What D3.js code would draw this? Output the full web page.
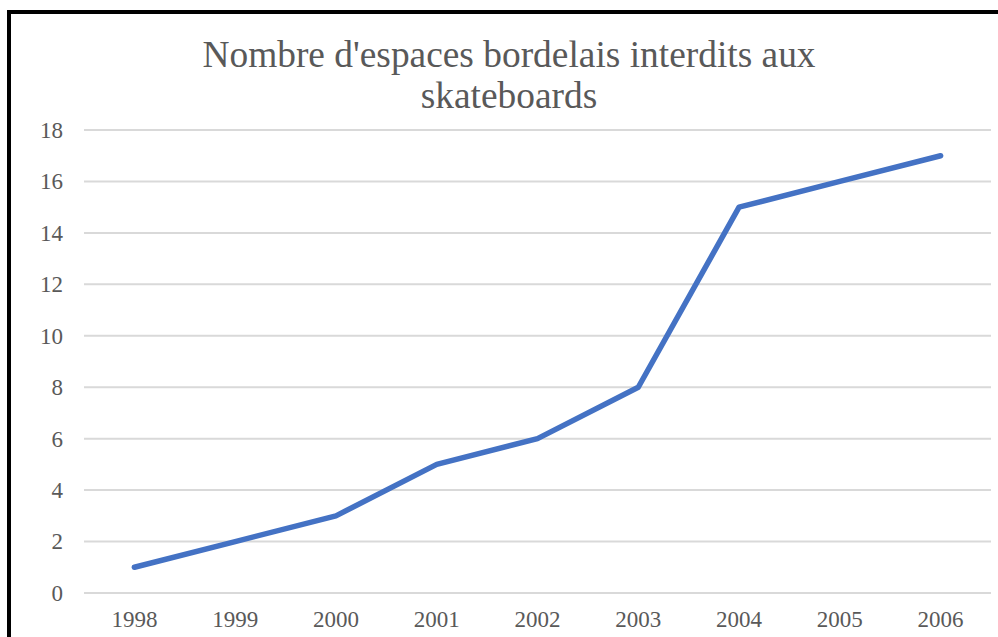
<!DOCTYPE html>
<html>
<head>
<meta charset="utf-8">
<script src="https://cdn.jsdelivr.net/npm/d3@7"></script>
<style>
  body { margin: 0; background: #fff; }
  svg { display: block; }
</style>
</head>
<body>
<svg class="chart" width="998" height="637"></svg>
<script>
// data
var years = ["1998", "1999", "2000", "2001", "2002", "2003", "2004", "2005", "2006"];
var counts = [1, 2, 3, 5, 6, 8, 15, 16, 17];
var yTicks = [0, 2, 4, 6, 8, 10, 12, 14, 16, 18];
var titleLines = ["Nombre d'espaces bordelais interdits aux", "skateboards"];

var FONT = "Liberation Serif";

var svg = d3.select(".chart"),
    margin = { top: 130, right: 7, bottom: 44, left: 84 },
    width = +svg.attr("width") - margin.left - margin.right,
    height = +svg.attr("height") - margin.top - margin.bottom;

// frame (only left and top edges are visible in the crop)
svg.append("path")
    .attr("d", "M9,700 L9,12 L1010,12")
    .attr("fill", "none")
    .attr("stroke", "#000")
    .attr("stroke-width", 4);

var g = svg.append("g").attr("transform", "translate(" + margin.left + "," + margin.top + ")");

var x = d3.scaleBand()
    .domain(years)
    .range([0, width]);

var y = d3.scaleLinear()
    .domain([0, 18])
    .range([height, 0]);

// gridlines
g.append("g")
    .selectAll("line")
    .data(yTicks)
    .enter()
    .append("line")
    .attr("x1", 0)
    .attr("x2", width)
    .attr("y1", function (d) { return y(d); })
    .attr("y2", function (d) { return y(d); })
    .attr("stroke", "#d9d9d9")
    .attr("stroke-width", 2);

// y axis labels
var yAxis = d3.axisLeft(y).tickValues(yTicks).tickSize(0).tickPadding(21);
var gy = g.append("g").call(yAxis)
    .attr("font-family", FONT)
    .attr("font-size", 23);
gy.select(".domain").remove();
gy.selectAll("text").attr("fill", "#595959");

// x axis labels
var xAxis = d3.axisBottom(x).tickSize(0).tickPadding(18);
var gx = g.append("g").attr("transform", "translate(0," + height + ")").call(xAxis)
    .attr("font-family", FONT)
    .attr("font-size", 23);
gx.select(".domain").remove();
gx.selectAll("text").attr("fill", "#595959");

// the line
var line = d3.line()
    .x(function (d, i) { return x(years[i]) + x.bandwidth() / 2; })
    .y(function (d) { return y(d); });

g.append("path")
    .datum(counts)
    .attr("d", line)
    .attr("fill", "none")
    .attr("stroke", "#4472c4")
    .attr("stroke-width", 5.5)
    .attr("stroke-linecap", "round")
    .attr("stroke-linejoin", "round");

// title
svg.append("g")
    .attr("font-family", FONT)
    .attr("font-size", 37.4)
    .selectAll("text")
    .data(titleLines)
    .enter()
    .append("text")
    .attr("x", 509)
    .attr("y", function (d, i) { return 67 + i * 41; })
    .attr("text-anchor", "middle")
    .attr("fill", "#595959")
    .text(function (d) { return d; });
</script>
</body>
</html>
